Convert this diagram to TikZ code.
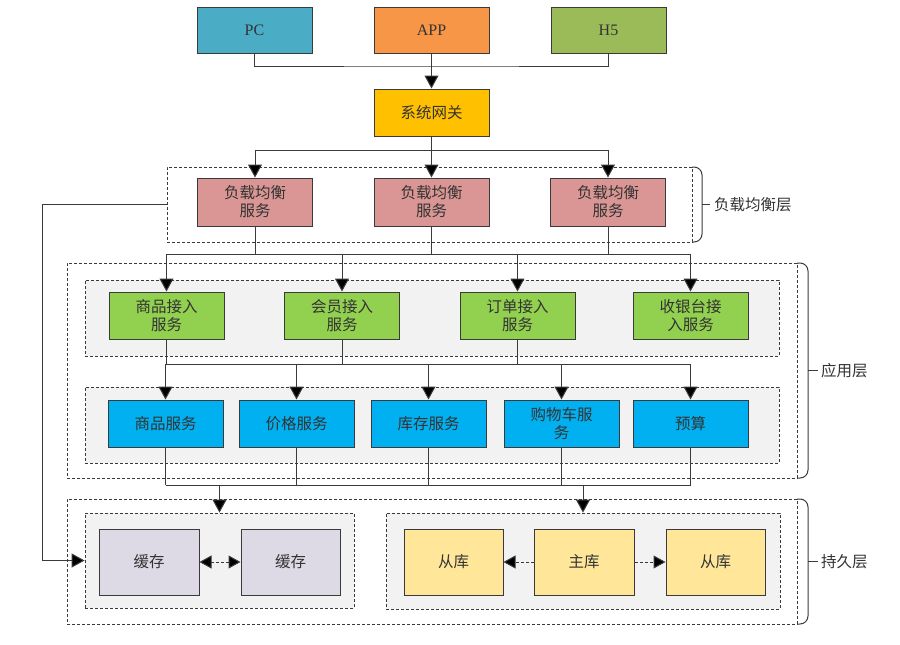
\documentclass[tikz,border=0pt]{standalone}
\usepackage{fontspec}
\setmainfont{Liberation Serif}
\newfontfamily\cjk{Noto Sans CJK SC}
\usetikzlibrary{arrows.meta}
\definecolor{pcC}{HTML}{4BACC6}
\definecolor{appC}{HTML}{F79646}
\definecolor{hfC}{HTML}{9BBB59}
\definecolor{gwC}{HTML}{FFC000}
\definecolor{lbC}{HTML}{D99694}
\definecolor{acC}{HTML}{92D050}
\definecolor{svC}{HTML}{00B0F0}
\definecolor{caC}{HTML}{DDD9E5}
\definecolor{dbC}{HTML}{FFE699}
\definecolor{bgG}{HTML}{F2F2F2}
\definecolor{lnC}{HTML}{3A3A3A}
\definecolor{txC}{HTML}{333333}
\tikzset{
  bx/.style={draw=lnC, line width=1pt, inner sep=0pt, align=center, text=txC,
    font=\cjk\fontsize{15.5}{18}\selectfont},
  lat/.style={font=\fontsize{16}{18}\selectfont},
  outerbox/.style={draw=lnC, line width=0.8pt, dash pattern=on 3pt off 2pt, fill=white, inner sep=0pt},
  innerbox/.style={draw=lnC, line width=0.8pt, dash pattern=on 3pt off 2pt, fill=bgG, inner sep=0pt},
  conn/.style={draw=lnC, line width=1pt},
  arr/.style={conn, -{Triangle[length=13pt,width=14pt,fill=black]}},
  darr/.style={conn, dash pattern=on 3pt off 2pt, {Triangle[length=12pt,width=13pt,fill=black]}-{Triangle[length=12pt,width=13pt,fill=black]}},
  sarr/.style={conn, dash pattern=on 3pt off 2pt, -{Triangle[length=12pt,width=13pt,fill=black]}},
  brace/.style={draw=lnC, line width=1pt, rounded corners=8pt},
  lbl/.style={anchor=west, inner sep=0pt, text=txC, font=\cjk\fontsize{15.5}{18}\selectfont}
}
\begin{document}
\begin{tikzpicture}[x=1pt,y=-1pt]
\useasboundingbox (0,0) rectangle (900,645);
% containers
\node[outerbox, minimum width=525pt, minimum height=75pt] (lbCont) at (429.5,204.5) {};
\node[outerbox, minimum width=730pt, minimum height=215pt] (appCont) at (432,370.5) {};
\node[innerbox, minimum width=694pt, minimum height=76pt] (acCont) at (432,318) {};
\node[innerbox, minimum width=694pt, minimum height=76pt] (svCont) at (432,425) {};
\node[outerbox, minimum width=730pt, minimum height=125pt] (psCont) at (432,561.5) {};
\node[innerbox, minimum width=269pt, minimum height=95pt] (caCont) at (219.5,560.5) {};
\node[innerbox, minimum width=394pt, minimum height=96pt] (dbCont) at (583,561) {};
% braces
\draw[brace] (692,167) -- (702,167) -- (702,242) -- (692,242);
\draw[conn] (702,204) -- (710,204);
\node[lbl] (lbLabel) at (714,205) {负载均衡层};
\draw[brace] (797,263) -- (808,263) -- (808,478) -- (797,478);
\draw[conn] (808,370) -- (818,370);
\node[lbl] (appLabel) at (821,371) {应用层};
\draw[brace] (797,499) -- (808,499) -- (808,624) -- (797,624);
\draw[conn] (808,561) -- (818,561);
\node[lbl] (psLabel) at (821,562) {持久层};
% top clients
\node[bx, lat, fill=pcC, minimum width=115pt, minimum height=46pt] (pc) at (254.5,30) {PC};
\node[bx, lat, fill=appC, minimum width=115pt, minimum height=46pt] (app) at (431.5,30) {APP};
\node[bx, lat, fill=hfC, minimum width=115pt, minimum height=46pt] (hf) at (608.5,30) {H5};
\node[bx, fill=gwC, minimum width=115pt, minimum height=47pt] (gw) at (431.5,112.5) {系统网关};
% load balancers
\node[bx, fill=lbC, minimum width=115pt, minimum height=48pt] (lb1) at (255,202) {负载均衡\\服务};
\node[bx, fill=lbC, minimum width=115pt, minimum height=48pt] (lb2) at (431.5,202) {负载均衡\\服务};
\node[bx, fill=lbC, minimum width=115pt, minimum height=48pt] (lb3) at (608,202) {负载均衡\\服务};
% access
\node[bx, fill=acC, minimum width=115pt, minimum height=47pt] (ac1) at (166.5,315.5) {商品接入\\服务};
\node[bx, fill=acC, minimum width=115pt, minimum height=47pt] (ac2) at (342,315.5) {会员接入\\服务};
\node[bx, fill=acC, minimum width=115pt, minimum height=47pt] (ac3) at (517.5,315.5) {订单接入\\服务};
\node[bx, fill=acC, minimum width=115pt, minimum height=47pt] (ac4) at (690.5,315.5) {收银台接\\入服务};
% services
\node[bx, fill=svC, minimum width=115pt, minimum height=47pt] (sv1) at (165.5,423.5) {商品服务};
\node[bx, fill=svC, minimum width=115pt, minimum height=47pt] (sv2) at (296.5,423.5) {价格服务};
\node[bx, fill=svC, minimum width=115pt, minimum height=47pt] (sv3) at (428.5,423.5) {库存服务};
\node[bx, fill=svC, minimum width=115pt, minimum height=47pt] (sv4) at (561.5,423.5) {购物车服\\务};
\node[bx, fill=svC, minimum width=115pt, minimum height=47pt] (sv5) at (690.5,423.5) {预算};
% persistence
\node[bx, fill=caC, minimum width=100pt, minimum height=66pt] (ca1) at (149,562) {缓存};
\node[bx, fill=caC, minimum width=99pt, minimum height=66pt] (ca2) at (290.5,562) {缓存};
\node[bx, fill=dbC, minimum width=99pt, minimum height=66pt] (db1) at (453.5,562) {从库};
\node[bx, fill=dbC, minimum width=100pt, minimum height=66pt] (db2) at (584,562) {主库};
\node[bx, fill=dbC, minimum width=99pt, minimum height=66pt] (db3) at (715.5,562) {从库};
% client -> gateway
\coordinate (j1) at (431.5,66);
\draw[conn] (pc) |- (j1) -| (hf);
\draw[arr] (app) -- (gw);
% gateway -> LB
\coordinate (j2) at (431.5,150);
\draw[conn] (gw) -- (j2);
\draw[arr] (j2) -| (lb1);
\draw[arr] (j2) -| (lb3);
\draw[arr] (j2) -- (lb2);
% LB -> access
\coordinate (b1) at (166.5,254);
\coordinate (b4) at (690.5,254);
\draw[conn] (b1) -- (b4);
\draw[conn] (lb1) -- (lb1 |- b1);
\draw[conn] (lb2) -- (lb2 |- b1);
\draw[conn] (lb3) -- (lb3 |- b1);
\draw[arr] (b1) -- (ac1);
\draw[arr] (ac2 |- b1) -- (ac2);
\draw[arr] (ac3 |- b1) -- (ac3);
\draw[arr] (b4) -- (ac4);
% access -> services
\coordinate (c1) at (166,364);
\coordinate (c5) at (690.5,364);
\draw[conn] (c1) -- (c5);
\draw[conn] (ac1) -- (ac1 |- c1);
\draw[conn] (ac2) -- (ac2 |- c1);
\draw[conn] (ac3) -- (ac3 |- c1);
\draw[arr] (sv1 |- c1) -- (sv1);
\draw[arr] (sv2 |- c1) -- (sv2);
\draw[arr] (sv3 |- c1) -- (sv3);
\draw[arr] (sv4 |- c1) -- (sv4);
\draw[arr] (c5) -- (sv5);
% services -> persistence
\coordinate (d1) at (165.5,485);
\coordinate (d5) at (690.5,485);
\draw[conn] (d1) -- (d5);
\draw[conn] (sv1) -- (d1);
\draw[conn] (sv2) -- (sv2 |- d1);
\draw[conn] (sv3) -- (sv3 |- d1);
\draw[conn] (sv4) -- (sv4 |- d1);
\draw[conn] (sv5) -- (d5);
\draw[arr] (caCont.north |- d1) -- (caCont.north);
\draw[arr] (dbCont.north |- d1) -- (dbCont.north);
% LB -> cache
\coordinate (lft) at (42,204.5);
\draw[arr] (lbCont.west) -- (lft) |- (caCont.west);
% replication
\draw[darr] (ca1) -- (ca2);
\draw[sarr] (db2) -- (db1);
\draw[sarr] (db2) -- (db3);
\end{tikzpicture}
\end{document}
